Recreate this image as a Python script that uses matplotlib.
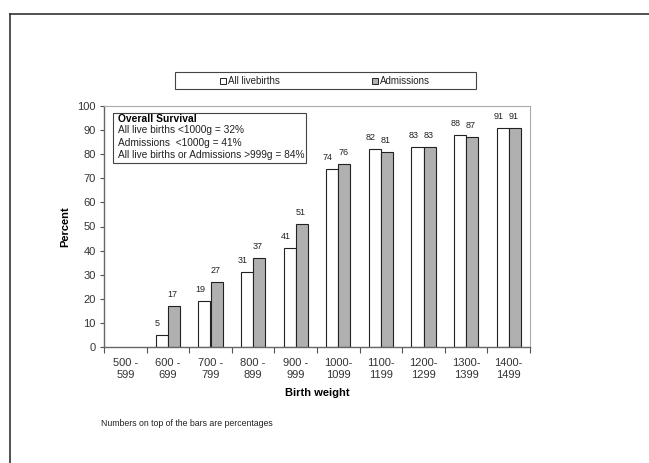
import matplotlib
matplotlib.use("Agg")
import matplotlib.pyplot as plt
import numpy as np
from matplotlib.patches import Rectangle

categories = ["500 -\n599", "600 -\n699", "700 -\n799", "800 -\n899", "900 -\n999",
              "1000-\n1099", "1100-\n1199", "1200-\n1299", "1300-\n1399", "1400-\n1499"]
livebirths = [np.nan, 5, 19, 31, 41, 74, 82, 83, 88, 91]
admissions = [np.nan, 17, 27, 37, 51, 76, 81, 83, 87, 91]
yticks = [0, 10, 20, 30, 40, 50, 60, 70, 80, 90, 100]

plt.rcParams['font.family'] = ['Liberation Sans', 'DejaVu Sans']

W, H = 649, 463
fig = plt.figure(figsize=(W / 100, H / 100), dpi=100)

# outer frame (top and left lines)
fig.add_artist(plt.Line2D([9.5 / W, 1], [1 - 13.5 / H, 1 - 13.5 / H], color="#333333", lw=1.2))
fig.add_artist(plt.Line2D([9.5 / W, 9.5 / W], [0, 1 - 13.5 / H], color="#333333", lw=1.2))

x0, x1, y0, y1 = 104, 530, 106, 347
ax = fig.add_axes([x0 / W, 1 - y1 / H, (x1 - x0) / W, (y1 - y0) / H])

x = np.arange(len(categories))
bw = 0.285
ax.bar(x - bw / 2, livebirths, bw, color="white", edgecolor="#222222", linewidth=0.8)
ax.bar(x + bw / 2, admissions, bw, color="#b0b0b0", edgecolor="#222222", linewidth=0.8)

for i in range(len(categories)):
    if not np.isnan(livebirths[i]):
        ax.annotate(f"{livebirths[i]:.0f}", (x[i] - bw / 2 - 0.1, livebirths[i]),
                    xytext=(0, 5), textcoords="offset points",
                    ha="center", va="bottom", fontsize=6.5, color="#222222")
    if not np.isnan(admissions[i]):
        ax.annotate(f"{admissions[i]:.0f}", (x[i] + bw / 2 - 0.03, admissions[i]),
                    xytext=(0, 5), textcoords="offset points",
                    ha="center", va="bottom", fontsize=6.5, color="#222222")

ax.set_xlim(-0.5, len(categories) - 0.5)
ax.set_ylim(0, 100)
ax.set_yticks(yticks)
ax.set_yticklabels([str(v) for v in yticks], fontsize=8, color="#333333")
ax.set_xticks(np.arange(len(categories) + 1) - 0.5, minor=False)
ax.set_xticklabels([])
ax.set_xticks(x, minor=True)
ax.set_xticklabels(categories, minor=True, fontsize=8, color="#333333")
ax.tick_params(axis="x", which="minor", length=0, pad=8)
ax.tick_params(axis="x", which="major", length=4, direction="out", color="#555555")
ax.tick_params(axis="y", length=3, direction="out", color="#555555", pad=3)

for s in ["top", "right"]:
    ax.spines[s].set_color("#aaaaaa")
    ax.spines[s].set_linewidth(0.8)
for s in ["left", "bottom"]:
    ax.spines[s].set_color("#666666")
    ax.spines[s].set_linewidth(1.0)

ax.set_ylabel("Percent", fontsize=8, fontweight="bold", labelpad=5)
ax.set_xlabel("Birth weight", fontsize=8, fontweight="bold", labelpad=6)

# annotation box
bx0, bx1, by0, by1 = 113, 306, 113, 163
fig.add_artist(Rectangle((bx0 / W, 1 - by1 / H), (bx1 - bx0) / W, (by1 - by0) / H,
                         transform=fig.transFigure, facecolor="white",
                         edgecolor="#444444", lw=0.8, zorder=5))
lines = ["All live births <1000g = 32%", "Admissions  <1000g = 41%",
         "All live births or Admissions >999g = 84%"]
fig.text(118 / W, 1 - 118.5 / H, "Overall Survival", fontsize=7.4, fontweight="bold",
         va="center", ha="left", zorder=6)
for k, t in enumerate(lines):
    fig.text(118 / W, 1 - (130.5 + 12.3 * k) / H, t, fontsize=7.3, va="center",
             ha="left", color="#222222", zorder=6)

# legend box
lx0, lx1, ly0, ly1 = 175, 476, 72, 89
fig.add_artist(Rectangle((lx0 / W, 1 - ly1 / H), (lx1 - lx0) / W, (ly1 - ly0) / H,
                         transform=fig.transFigure, facecolor="white",
                         edgecolor="#444444", lw=0.8))
sq = 6
for (px, lab, col) in [(220, "All livebirths", "white"), (372, "Admissions", "#b0b0b0")]:
    fig.add_artist(Rectangle((px / W, 1 - 83.5 / H), sq / W, sq / H,
                             transform=fig.transFigure, facecolor=col,
                             edgecolor="#222222", lw=0.7))
    fig.text((px + sq + 2) / W, 1 - 80.5 / H, lab, fontsize=7, va="center",
             ha="left", color="#222222")

fig.text(101 / W, 1 - 423 / H, "Numbers on top of the bars are percentages",
         fontsize=6.3, va="center", ha="left", color="#222222")

fig.savefig("out.png", dpi=100, facecolor="white")
